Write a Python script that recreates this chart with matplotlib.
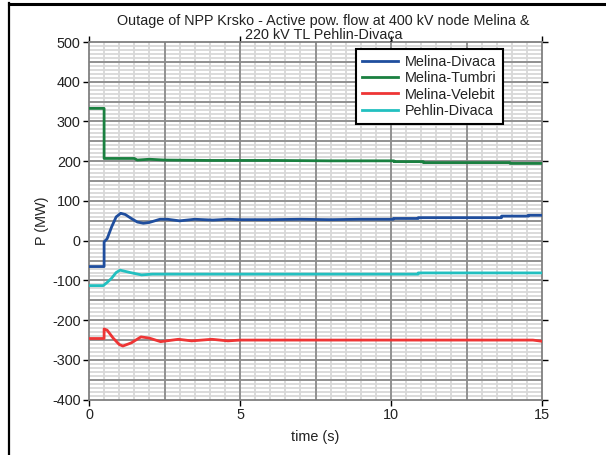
import numpy as np
import matplotlib
matplotlib.use("Agg")
import matplotlib.pyplot as plt
from matplotlib.lines import Line2D

plt.rcParams['font.family'] = ['Liberation Sans', 'DejaVu Sans']
plt.rcParams['axes.unicode_minus'] = False

# ---- data ----
t_divaca = [0, 0.5, 0.5, 0.6, 0.75, 0.9, 1.05, 1.2, 1.4, 1.6, 1.8, 2.0, 2.35, 2.6, 3.0, 3.5, 4.1, 4.6, 5.0, 6.0, 7.0, 8.0, 9.0, 10.08, 10.08, 10.9, 10.9, 13.66, 13.66, 14.55, 14.55, 15]
p_divaca = [-65, -65, -3, 5, 35, 60, 69, 66, 56, 47, 44, 46, 54, 54, 50, 54, 52, 54, 53, 53, 54, 53, 54, 54, 56, 56, 58, 58, 62, 62, 64, 64]

t_tumbri = [0, 0.5, 0.5, 1.5, 1.6, 2.0, 2.5, 4.0, 6.0, 8.0, 9.8, 10.1, 10.1, 11.07, 11.07, 13.94, 13.94, 15]
p_tumbri = [333, 333, 207, 207, 203, 205, 203, 202, 202, 201, 201, 201, 199, 199, 196.5, 196.5, 194.5, 194.5]

t_velebit = [0, 0.5, 0.5, 0.6, 0.8, 1.0, 1.12, 1.4, 1.72, 2.0, 2.37, 2.96, 3.4, 4.07, 4.6, 5.0, 7.0, 10.0, 13.0, 14.7, 15]
p_velebit = [-246, -246, -222, -225, -245, -261, -265, -257, -242, -245, -254, -248, -252, -248, -252, -250, -250, -250, -250, -250, -253]

t_pehlin = [0, 0.47, 0.6, 0.74, 0.9, 1.03, 1.36, 1.74, 2.1, 3.0, 5.0, 8.0, 10.9, 10.9, 15]
p_pehlin = [-113, -113, -105, -95, -80, -74, -80, -86, -84, -84, -84, -84, -84, -81, -81]

series_labels = ['Melina-Divaca', 'Melina-Tumbri', 'Melina-Velebit', 'Pehlin-Divaca']
series_colors = ['#1f4e9e', '#1a8040', '#ee3535', '#22c0c0']

x_ticks = [0, 5, 10, 15]
y_ticks = [-400, -300, -200, -100, 0, 100, 200, 300, 400, 500]

title_text = 'Outage of NPP Krsko - Active pow. flow at 400 kV node Melina &\n220 kV TL Pehlin-Divaça'

FS = 10.4

# ---- figure ----
fig = plt.figure(figsize=(6.06, 4.55), dpi=100)
W, H = 606, 455
ax = fig.add_axes([89 / W, 1 - 399.7 / H, 453 / W, 357.7 / H])
ax.set_xlim(0, 15)
ax.set_ylim(-400, 500)

# grid
minor_c = '#d8d8d8'
major_c = '#8c8c8c'
ax.vlines(np.arange(0.5, 15, 0.5), -400, 500, colors=minor_c, lw=1.3, zorder=0.5)
ax.hlines(np.arange(-390, 500, 10), 0, 15, colors=minor_c, lw=1.3, zorder=0.5)
ax.vlines(np.arange(2.5, 15, 2.5), -400, 500, colors=major_c, lw=1.3, zorder=0.6)
ax.hlines(np.arange(-350, 500, 50), 0, 15, colors=major_c, lw=1.3, zorder=0.6)

ts = [t_divaca, t_tumbri, t_velebit, t_pehlin]
ps = [p_divaca, p_tumbri, p_velebit, p_pehlin]
for t, p, lab, c in zip(ts, ps, series_labels, series_colors):
    ax.plot(t, p, color=c, lw=2.0, label=lab, zorder=3)

ax.set_xticks(x_ticks)
ax.set_yticks(y_ticks)
ax.tick_params(direction='out', length=4, width=1, color='black', labelsize=FS,
               top=True, right=True, labeltop=False, labelright=False, pad=2,
               labelcolor='#222222')
for s in ax.spines.values():
    s.set_color('#808080')
    s.set_linewidth(1.3)

ax.set_xlabel('time (s)', fontsize=FS, labelpad=6, color='#222222')
ax.set_ylabel('P (MW)', fontsize=FS, labelpad=2, color='#222222')
ax.text(0.518, 1.0, title_text, transform=ax.transAxes, ha='center', va='bottom',
        fontsize=FS, linespacing=1.0, color='#222222')

leg = ax.legend(loc='upper right', bbox_to_anchor=(0.914, 0.980), fontsize=FS,
                handlelength=2.5, labelspacing=0.15, borderpad=0.42, handletextpad=0.5,
                fancybox=False, framealpha=1, edgecolor='black', borderaxespad=0)
leg.get_frame().set_linewidth(1.5)
for txt in leg.get_texts():
    txt.set_color('#222222')
leg.set_zorder(5)

# outer border lines
fig.add_artist(Line2D([8.5 / W, 8.5 / W], [0, 1 - 3 / H], color='black', lw=1.6, transform=fig.transFigure))
fig.add_artist(Line2D([8.5 / W, 1], [1 - 3.5 / H, 1 - 3.5 / H], color='black', lw=2.2, transform=fig.transFigure))

fig.savefig('out.png', dpi=100)
